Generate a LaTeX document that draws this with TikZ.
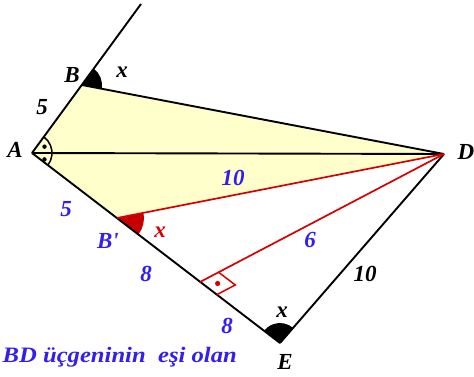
\documentclass[tikz,border=0pt]{standalone}
\usepackage{fontspec}
\setmainfont{Liberation Serif}
\usetikzlibrary{calc}
\definecolor{lblue}{RGB}{50,30,240}
\definecolor{lred}{RGB}{215,0,0}
\definecolor{lyel}{RGB}{255,255,204}
\begin{document}
\begin{tikzpicture}[x=1pt,y=-1pt,
  lab/.style={font=\fontsize{23}{23}\selectfont\bfseries\itshape, inner sep=0pt},
  seg/.style={line width=1.9pt, black},
  rseg/.style={line width=1.7pt, lred}]
\useasboundingbox (0,0) rectangle (474,377);
\coordinate (A) at (32,153);
\coordinate (B) at (82,85);
\coordinate (T) at (141,4);
\coordinate (D) at (444,154);
\coordinate (Bp) at (117,218);
\coordinate (H) at (200,282);
\coordinate (E) at (280,343);
% yellow region
\fill[lyel] (A)--(B)--(D)--(Bp)--cycle;
% angle at B
\fill[black] let \p1=($(D)-(B)$), \p2=($(T)-(B)$), \n1={atan2(\y1,\x1)}, \n2={atan2(\y2,\x2)} in
  (B) -- ++(\n1:20pt) arc[start angle=\n1, end angle=\n2, radius=20pt] -- cycle;
% angle at B'
\fill[lred!92!black] let \p1=($(E)-(Bp)$), \p2=($(D)-(Bp)$), \n1={atan2(\y1,\x1)}, \n2={atan2(\y2,\x2)} in
  (Bp) -- ++(\n1:27pt) arc[start angle=\n1, end angle=\n2, radius=27pt] -- cycle;
% angle at E
\fill[black] let \p1=($(D)-(E)$), \p2=($(A)-(E)$), \n1={atan2(\y1,\x1)}, \n2={atan2(\y2,\x2)} in
  (E) -- ++(\n1:20pt) arc[start angle=\n1, end angle=\n2, radius=20pt] -- cycle;
% angle at A
\draw[line width=1.5pt] let \p1=($(E)-(A)$), \p2=($(B)-(A)$), \n1={atan2(\y1,\x1)}, \n2={atan2(\y2,\x2)} in
  ($(A)+(\n1:20pt)$) arc[start angle=\n1, end angle=\n2, radius=20pt];
\fill let \p1=($(D)-(A)$), \n1={atan2(\y1,\x1)} in
  ($(A)+(\n1+27:14pt)$) circle[radius=2.2pt]
  ($(A)+(\n1-27:14pt)$) circle[radius=2.2pt];
% lines
\draw[seg] (A) -- (T);
\draw[seg] (B) -- (D);
\draw[seg] (A) -- (D);
\draw[seg] (A) -- (E);
\draw[seg] (E) -- (D);
\draw[rseg] (Bp) -- (D);
\draw[rseg] (H) -- (D);
% right angle marker
\coordinate (P1) at ($(H)!21pt!(D)$);
\coordinate (P3) at ($(H)!21pt!(E)$);
\coordinate (P2) at ($(P1)+(P3)-(H)$);
\draw[line width=1.5pt, lred] (P1) -- (P2) -- (P3);
\fill[lred] ($(H)!0.5!(P2)$) circle[radius=2.6pt];
% labels
\node[lab] (lA) at (15,150) {A};
\node[lab] (lB) at (72,75) {B};
\node[lab] (lD) at (466,152) {D};
\node[lab] (lE) at (285,362) {E};
\node[lab] (lx1) at (122,72) {x};
\node[lab] (l5a) at (42,107) {5};
\node[lab, lblue] (l10a) at (233,178) {10};
\node[lab, lblue] (l5b) at (66,209) {5};
\node[lab, lblue] (lBp) at (108,241) {B\textquotesingle};
\node[lab, lred] (lx2) at (160,232) {x};
\node[lab, lblue] (l6) at (310,240) {6};
\node[lab, lblue] (l8a) at (146,274) {8};
\node[lab, lblue] (l8b) at (227,326) {8};
\node[lab] (l10b) at (365,274) {10};
\node[lab] (lx3) at (282,312) {x};
\node[font=\fontsize{22}{22}\selectfont\bfseries\itshape, lblue, inner sep=0pt, anchor=base east] (cap) at (237,362) {\scalebox{1.12}[1]{BD üçgeninin\ \ eşi olan}};
\end{tikzpicture}
\end{document}
